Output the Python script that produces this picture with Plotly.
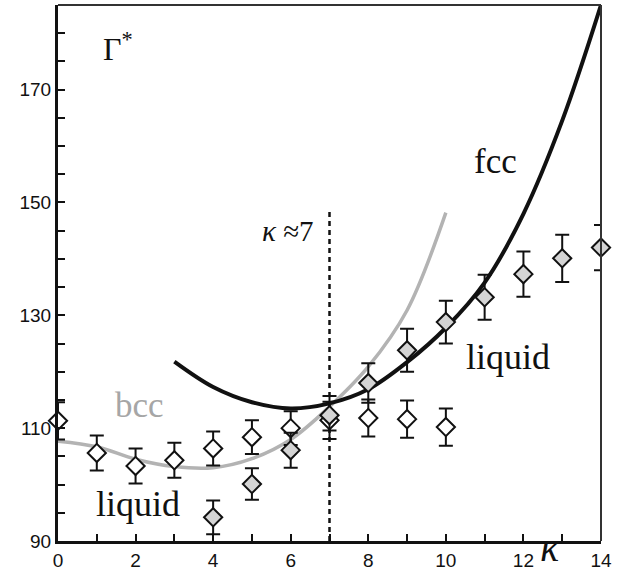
import plotly.graph_objects as go

# ---- data ----
kappa_open = [0, 1, 2, 3, 4, 5, 6, 7, 8, 9, 10]
gamma_open = [111.3, 105.6, 103.3, 104.3, 106.4, 108.4, 110.0, 111.4, 111.8, 111.6, 110.2]
err_open = [3.3, 3.1, 3.1, 3.1, 3.0, 3.0, 3.0, 3.3, 3.3, 3.3, 3.3]

kappa_fill = [4, 5, 6, 7, 8, 9, 10, 11, 12, 13, 14]
gamma_fill = [94.2, 100.1, 106.1, 112.3, 118.0, 123.8, 128.8, 133.2, 137.3, 140.1, 142.0]
err_fill_plus = [3.0, 2.8, 3.1, 3.4, 3.5, 3.8, 3.8, 4.0, 4.0, 4.2, 4.0]
err_fill_minus = [3.0, 2.8, 3.1, 2.7, 3.5, 3.8, 3.8, 4.0, 4.0, 4.2, 4.0]

kappa_bcc = [0, 1, 2, 3, 4, 5, 6, 7, 8, 9, 10]
gamma_bcc = [107.7, 106.7, 104.5, 103.2, 103.0, 104.6, 108.0, 113.8, 120.9, 130.9, 148.2]

kappa_fcc = [3, 4, 5, 6, 7, 8, 9, 10, 11, 12, 13, 14]
gamma_fcc = [121.8, 117.3, 114.6, 113.5, 114.4, 116.9, 121.7, 127.8, 135.8, 148.0, 164.5, 185.0]

x_tickvals = list(range(0, 15))
x_ticktext = ["0", "", "2", "", "4", "", "6", "", "8", "", "10", "", "12", "", "14"]
y_tickvals = list(range(90, 186, 5))
y_labels = {90: "90", 110: "110", 130: "130", 150: "150", 170: "170"}
y_ticktext = [y_labels.get(v, "") for v in y_tickvals]

kappa_line = 7
gamma_line_top = 148.6

SERIF = "Liberation Serif"
SANS = "Liberation Sans"

fig = go.Figure()

fig.add_trace(go.Scatter(x=kappa_bcc, y=gamma_bcc, mode="lines",
                         line=dict(color="#b3b3b3", width=3.5, shape="spline", smoothing=1.0),
                         hoverinfo="skip", cliponaxis=False))
fig.add_trace(go.Scatter(x=kappa_fcc, y=gamma_fcc, mode="lines",
                         line=dict(color="#111111", width=4, shape="spline", smoothing=1.0),
                         hoverinfo="skip", cliponaxis=False))
fig.add_trace(go.Scatter(x=[kappa_line, kappa_line], y=[90, gamma_line_top], mode="lines",
                         line=dict(color="#111111", width=2.5, dash="5px,4px"),
                         hoverinfo="skip"))

fig.add_trace(go.Scatter(x=kappa_open, y=gamma_open, mode="markers",
                         marker=dict(symbol="diamond", size=14, color="white",
                                     line=dict(color="#111111", width=2)),
                         error_y=dict(type="data", array=err_open, color="#111111",
                                      thickness=2, width=7),
                         cliponaxis=False))
fig.add_trace(go.Scatter(x=kappa_fill, y=gamma_fill, mode="markers",
                         marker=dict(symbol="diamond", size=14, color="#d4d4d4",
                                     line=dict(color="#111111", width=2)),
                         error_y=dict(type="data", symmetric=False, array=err_fill_plus,
                                      arrayminus=err_fill_minus, color="#111111",
                                      thickness=2, width=7),
                         cliponaxis=False))

ann = []
ann.append(dict(x=1.1, y=177.5, xref="x", yref="y", text="Γ<sup>*</sup>", showarrow=False,
                xanchor="left", yanchor="middle", font=dict(family=SERIF, size=32, color="#111111")))
ann.append(dict(x=11.28, y=157.2, xref="x", yref="y", text="fcc", showarrow=False,
                font=dict(family=SERIF, size=35, color="#111111")))
ann.append(dict(x=2.1, y=114.0, xref="x", yref="y", text="bcc", showarrow=False,
                font=dict(family=SERIF, size=35, color="#a6a6a6")))
ann.append(dict(x=2.07, y=96.6, xref="x", yref="y", text="liquid", showarrow=False,
                font=dict(family=SERIF, size=36, color="#111111")))
ann.append(dict(x=11.61, y=122.6, xref="x", yref="y", text="liquid", showarrow=False,
                font=dict(family=SERIF, size=36, color="#111111")))
ann.append(dict(x=5.93, y=145.0, xref="x", yref="y", text="<i>κ</i> ≈7", showarrow=False,
                font=dict(family=SERIF, size=29, color="#111111")))
ann.append(dict(x=0.928, y=-0.058, xref="paper", yref="paper", text="<i>κ</i>", showarrow=False,
                font=dict(family=SERIF, size=40, color="#111111")))

fig.update_layout(
    width=617, height=584,
    margin=dict(l=58, r=14, t=5, b=43),
    paper_bgcolor="white", plot_bgcolor="white",
    showlegend=False,
    annotations=ann,
    xaxis=dict(range=[0, 14], tickvals=x_tickvals, ticktext=x_ticktext,
               ticks="inside", ticklen=7, tickwidth=2, tickcolor="#111111",
               showline=True, linewidth=3, linecolor="#111111",
               showgrid=False, zeroline=False,
               tickfont=dict(family=SANS, size=19, color="#111111")),
    yaxis=dict(range=[90, 185], tickvals=y_tickvals, ticktext=y_ticktext,
               ticks="inside", ticklen=7, tickwidth=2, tickcolor="#111111",
               showline=True, linewidth=3, linecolor="#111111",
               showgrid=False, zeroline=False,
               tickfont=dict(family=SANS, size=19, color="#111111")),
    shapes=[
        dict(type="line", xref="paper", yref="paper", x0=0, x1=1, y0=1, y1=1,
             line=dict(color="#333333", width=2)),
        dict(type="line", xref="paper", yref="paper", x0=1, x1=1, y0=0, y1=1,
             line=dict(color="#333333", width=2)),
    ],
)

fig.write_html("out.html", config={"displayModeBar": False},
               post_script="document.body.style.margin='0px';document.body.style.overflow='hidden';")
